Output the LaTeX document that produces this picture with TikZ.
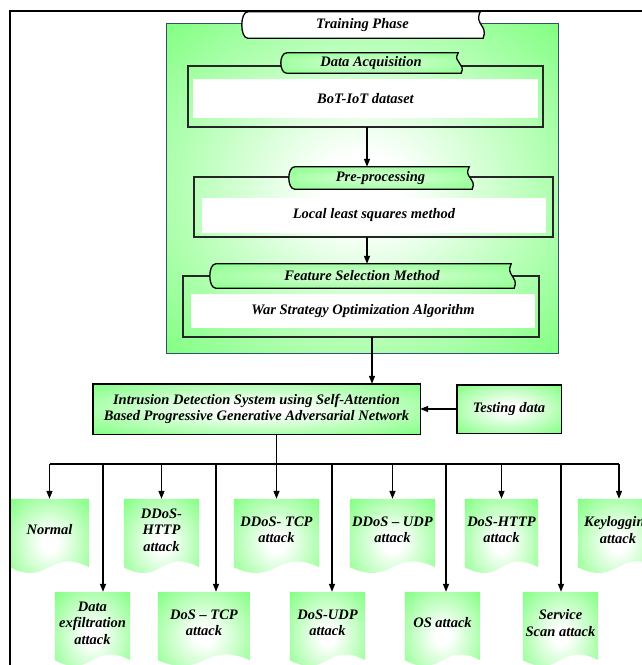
\documentclass[tikz,border=0pt]{standalone}
\usepackage{fontspec}
\setmainfont{Liberation Serif}
\usetikzlibrary{arrows.meta}
\definecolor{gr}{RGB}{128,255,128}
\colorlet{grlight}{white!55!gr}
\colorlet{grmid}{white!25!gr}
\definecolor{frameblue}{RGB}{50,80,110}
\pgfdeclareradialshading{glow}{\pgfpoint{0bp}{0bp}}{color(0bp)=(white); color(5bp)=(white); color(36bp)=(gr); color(50bp)=(gr)}
\pgfdeclareradialshading{glowsoft}{\pgfpoint{0bp}{0bp}}{color(0bp)=(grlight); color(10bp)=(grlight); color(40bp)=(gr); color(50bp)=(gr)}
\pgfdeclareradialshading{plainwhite}{\pgfpoint{0bp}{0bp}}{color(0bp)=(white); color(50bp)=(white)}
\pgfdeclarelayer{bg}
\pgfsetlayers{bg,main}
\newcommand\bannerdraw[2]{\shadedraw[#2] ([xshift=6pt]#1.north west) -- ([xshift=-3pt]#1.north east) .. controls ([xshift=-9pt]#1.east) and ([xshift=5pt]#1.east) .. (#1.south east) -- ([xshift=6pt]#1.south west) .. controls ([xshift=-2pt]#1.south west) and ([xshift=-2pt]#1.north west) .. cycle;}
\newcommand\docdraw[1]{\shade[shading=glow] ([yshift=-6pt]#1.south west) -- (#1.north west) -- (#1.north east) -- ([yshift=-6pt]#1.south east) .. controls ([yshift=14pt]#1.south) and ([yshift=-26pt]#1.south) .. ([yshift=-6pt]#1.south west) -- cycle;}
\newcommand\subboxdraw[2]{\draw[line width=1.7pt, draw=black!85] (#1.north west) rectangle (#1.south east); \fill[white] (#2.north west) rectangle (#2.south east);}
\begin{document}
\begin{tikzpicture}[x=1pt,y=-1pt,
  txt/.style={font=\bfseries\itshape\fontsize{14.5}{16.5}\selectfont, align=center, inner sep=0pt, text=black},
  sz/.style 2 args={minimum width=#1pt, minimum height=#2pt},
  arr/.style={line width=1.4pt, -{Triangle[length=8pt,width=6pt]}},
  conn/.style={line width=1.4pt},
  bannerwhite/.style={shading=plainwhite, draw=black, line width=1.3pt},
  bannergreen/.style={shading=glowsoft, draw=black, line width=1.3pt},
  greenbox/.style={shading=glow, draw=black, line width=1.4pt}]
\useasboundingbox (0,0) rectangle (642,665);
\clip (0,0) rectangle (642,665);
% training phase block
\node[txt, sz={391}{329}] (train) at (362.5,188.5) {};
\node[txt, sz={241}{26}] (tp) at (362.5,25) {Training Phase};
\node[txt, sz={355}{61}] (sb1) at (365.5,96.5) {};
\node[txt, sz={345}{39}] (wb1) at (365.5,98.5) {BoT-IoT dataset};
\node[txt, sz={180}{20}] (da) at (371,63) {Data Acquisition};
\node[txt, sz={359}{60}] (sb2) at (373.5,207) {};
\node[txt, sz={344}{35}] (wb2) at (374,215.5) {Local least squares method};
\node[txt, sz={183}{22}] (pp) at (380.5,178) {Pre-processing};
\node[txt, sz={356}{61}] (sb3) at (361,306.5) {};
\node[txt, sz={344}{34}] (wb3) at (363,311) {War Strategy Optimization Algorithm};
\node[txt, sz={304}{24}] (fs) at (362,276) {Feature Selection Method};
% detection
\node[txt, sz={327}{50}] (ids) at (256.5,409) {Intrusion Detection System using Self-Attention\\Based Progressive Generative Adversarial Network};
\node[txt, sz={104}{48}] (td) at (509,409) {Testing data};
% classes, top row
\node[txt, sz={79}{62}] (c1) at (49.5,530) {Normal};
\node[txt, sz={75}{62}] (c2) at (161.5,530) {DDoS-\\HTTP\\attack};
\node[txt, sz={85}{62}] (c3) at (276.5,530) {DDoS- TCP\\attack};
\node[txt, sz={85}{62}] (c4) at (392.5,530) {DDoS -- UDP\\attack};
\node[txt, sz={73}{62}] (c5) at (501.5,530) {DoS-HTTP\\attack};
\node[txt, sz={80}{62}] (c6) at (618,530) {Keylogging\\attack};
% classes, bottom row
\node[txt, sz={75}{62}] (d1) at (92.5,623) {Data\\exfiltration\\attack};
\node[txt, sz={92}{62}] (d2) at (204,623) {DoS -- TCP\\attack};
\node[txt, sz={75}{62}] (d3) at (327.5,623) {DoS-UDP\\attack};
\node[txt, sz={75}{62}] (d4) at (442.5,623) {OS attack};
\node[txt, sz={75}{62}] (d5) at (560.5,623) {Service\\Scan attack};
\coordinate (bus) at (0,464);
% background shapes
\begin{pgfonlayer}{bg}
\clip (0,0) rectangle (642,665);
\shadedraw[shading=glow, draw=frameblue, line width=1.3pt] (train.north west) rectangle (train.south east);
\subboxdraw{sb1}{wb1}
\subboxdraw{sb2}{wb2}
\subboxdraw{sb3}{wb3}
\bannerdraw{tp}{bannerwhite}
\bannerdraw{da}{bannergreen}
\bannerdraw{pp}{bannergreen}
\bannerdraw{fs}{bannergreen}
\shadedraw[greenbox] (ids.north west) rectangle (ids.south east);
\shadedraw[greenbox] (td.north west) rectangle (td.south east);
\docdraw{c1}\docdraw{c2}\docdraw{c3}\docdraw{c4}\docdraw{c5}\docdraw{c6}
\docdraw{d1}\docdraw{d2}\docdraw{d3}\docdraw{d4}\docdraw{d5}
\end{pgfonlayer}
% frame
\draw[line width=2.2pt] (10,665) -- (10,11) -- (642,11);
% flow arrows
\draw[arr] ([xshift=1.5pt]sb1.south) -- ([xshift=1.5pt]sb1.south |- pp.north);
\draw[arr] ([xshift=-6.5pt]sb2.south) -- ([xshift=-6.5pt]sb2.south |- fs.north);
\draw[arr] ([xshift=11pt]sb3.south) -- ([xshift=11pt]sb3.south |- ids.north);
\draw[arr] (td.west) -- (ids.east);
% distribution bus
\draw[conn] (c1.north |- bus) -- ([xshift=1pt]c6.north |- bus);
\draw[arr] (c3.north |- ids.south) -- (c3.north);
\draw[arr] (c1.north |- bus) -- (c1.north);
\draw[arr] (c2.north |- bus) -- (c2.north);
\draw[arr] (c4.north |- bus) -- (c4.north);
\draw[arr] (c5.north |- bus) -- (c5.north);
\draw[arr] ([xshift=1pt]c6.north |- bus) -- ([xshift=1pt]c6.north);
\draw[arr] ([xshift=10.5pt]d1.north |- bus) -- ([xshift=10.5pt]d1.north);
\draw[arr] ([xshift=12pt]d2.north |- bus) -- ([xshift=12pt]d2.north);
\draw[arr] ([xshift=4.5pt]d3.north |- bus) -- ([xshift=4.5pt]d3.north);
\draw[arr] ([xshift=3.5pt]d4.north |- bus) -- ([xshift=3.5pt]d4.north);
\draw[arr] ([xshift=0.5pt]d5.north |- bus) -- ([xshift=0.5pt]d5.north);
\end{tikzpicture}
\end{document}
